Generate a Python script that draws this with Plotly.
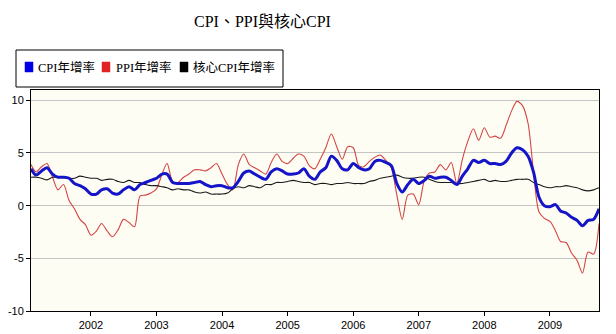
import pandas as pd
import plotly.graph_objects as go

# Monthly year-over-year rates (%), Feb 2001 - Oct 2009
months = pd.date_range("2001-02-01", "2009-10-01", freq="MS")

cpi = [
    3.5, 2.9, 3.3, 3.6, 3.0, 2.7, 2.7, 2.6, 2.1, 1.9, 1.6,
    1.1, 1.1, 1.5, 1.6, 1.2, 1.1, 1.5, 1.8, 1.5, 2.0, 2.2, 2.4,
    2.6, 3.0, 3.0, 2.2, 2.1, 2.1, 2.1, 2.2, 2.3, 2.0, 1.8, 1.9,
    1.9, 1.7, 1.7, 2.3, 3.1, 3.3, 3.0, 2.7, 2.5, 3.2, 3.5, 3.3,
    3.0, 3.0, 3.1, 3.5, 2.8, 2.5, 3.2, 3.6, 4.7, 4.3, 3.5, 3.4,
    4.0, 3.6, 3.4, 3.5, 4.2, 4.3, 4.1, 3.8, 2.1, 1.3, 2.0, 2.5,
    2.1, 2.4, 2.8, 2.6, 2.7, 2.7, 2.4, 2.0, 2.8, 3.5, 4.3, 4.1,
    4.3, 4.0, 4.0, 3.9, 4.2, 5.0, 5.5, 5.3, 4.7, 3.2, 0.8, 0.0,
    -0.1, 0.1, -0.5, -0.7, -1.1, -1.4, -1.9, -1.4, -1.3, -0.3,
]

ppi = [
    3.9, 3.2, 3.7, 4.0, 2.7, 1.5, 2.0, 0.5, -0.3, -1.3, -1.8,
    -2.8, -2.4, -1.7, -2.4, -2.95, -2.3, -1.3, -1.6, -2.0, 0.9, 1.0, 1.2,
    1.6, 3.0, 4.0, 2.3, 2.2, 2.7, 3.0, 3.4, 3.4, 3.3, 3.6, 4.0,
    3.0, 2.0, 1.5, 3.9, 4.9, 3.9, 3.6, 3.3, 3.0, 4.1, 4.9, 4.2,
    4.0, 4.5, 4.9, 4.7, 3.8, 3.5, 4.4, 5.5, 6.8, 5.6, 4.4, 5.6,
    5.5, 3.8, 3.7, 4.2, 4.6, 4.8, 4.3, 3.6, 1.0, -1.3, 1.0, 1.1,
    0.1, 2.4, 3.1, 3.2, 3.9, 3.4, 4.1, 2.1, 4.4, 6.1, 7.3, 6.2,
    7.4, 6.5, 6.6, 6.4, 7.6, 9.0, 9.9, 9.5, 7.8, 3.2, -0.6, -1.2,
    -1.5, -2.4, -3.4, -3.5, -4.5, -5.2, -6.4, -4.4, -4.6, -1.7,
]

core = [
    2.7, 2.7, 2.6, 2.45, 2.7, 2.7, 2.7, 2.6, 2.6, 2.8, 2.7,
    2.6, 2.6, 2.4, 2.5, 2.5, 2.3, 2.2, 2.4, 2.2, 2.2, 2.0, 1.9,
    1.9, 1.8, 1.7, 1.5, 1.6, 1.5, 1.5, 1.3, 1.2, 1.3, 1.1, 1.1,
    1.1, 1.2, 1.6, 1.8, 1.7, 1.9, 1.8, 1.7, 2.0, 2.0, 2.2, 2.2,
    2.3, 2.4, 2.3, 2.2, 2.2, 2.0, 2.1, 2.1, 2.0, 2.1, 2.1, 2.2,
    2.1, 2.1, 2.1, 2.3, 2.4, 2.6, 2.7, 2.8, 2.9, 2.7, 2.6, 2.6,
    2.7, 2.7, 2.5, 2.3, 2.2, 2.2, 2.2, 2.1, 2.1, 2.2, 2.3, 2.4,
    2.5, 2.3, 2.4, 2.3, 2.3, 2.4, 2.5, 2.5, 2.5, 2.2, 2.0, 1.8,
    1.7, 1.8, 1.8, 1.9, 1.8, 1.7, 1.5, 1.4, 1.5, 1.7,
]

series_names = ["CPI年增率", "PPI年增率", "核心CPI年增率"]
line_colors = ["#1414C8", "#D44444", "#1A1A1A"]
key_colors = ["#0000E6", "#E02424", "#000000"]
line_widths = [3, 1.1, 1.1]

year_ticks = [str(y) for y in range(2002, 2010)]
y_ticks = [-10, -5, 0, 5, 10]

W, H = 616, 334
ML, MR, MT, MB = 31, 17, 90, 23
PW, PH = W - ML - MR, H - MT - MB


def px(x):
    return (x - ML) / PW


def py(y):
    return (H - MB - y) / PH


fig = go.Figure()
# red first, then black, then blue on top
for idx in [1, 2, 0]:
    fig.add_trace(go.Scatter(
        x=months, y=[cpi, ppi, core][idx], mode="lines",
        name=series_names[idx], showlegend=False,
        line=dict(color=line_colors[idx], width=line_widths[idx],
                  shape="spline", smoothing=0.8),
        hoverinfo="x+y",
    ))

# legend box drawn in pixel positions
shapes = [dict(type="rect", xref="paper", yref="paper",
               x0=px(16), x1=px(283), y0=py(87), y1=py(50),
               line=dict(color="black", width=1), fillcolor="white", layer="above")]
annotations = []
key_x = [25, 102, 180]
text_x = [36, 114, 191]
for i, name in enumerate(series_names):
    shapes.append(dict(type="rect", xref="paper", yref="paper",
                       x0=px(key_x[i]), x1=px(key_x[i] + 8),
                       y0=py(72), y1=py(62),
                       line=dict(color=key_colors[i], width=0.5),
                       fillcolor=key_colors[i], layer="above"))
    annotations.append(dict(text=name, xref="paper", yref="paper",
                            x=px(text_x[i]), y=py(67.5),
                            xanchor="left", yanchor="middle", showarrow=False,
                            font=dict(family="Liberation Serif, Noto Sans CJK TC",
                                      size=12.5, color="black")))

annotations.append(dict(text="CPI、PPI與核心CPI", xref="paper", yref="paper",
                        x=px(262), y=py(21), xanchor="center", yanchor="middle",
                        showarrow=False,
                        font=dict(family="Liberation Serif, Noto Sans CJK TC",
                                  size=16, color="black")))

fig.update_layout(
    width=W, height=H,
    margin=dict(l=ML, r=MR, t=MT, b=MB, pad=0),
    paper_bgcolor="white",
    plot_bgcolor="#FEFDF3",
    shapes=shapes,
    annotations=annotations,
    showlegend=False,
    xaxis=dict(
        type="date",
        automargin=False,
        range=[months[0], months[-1]],
        tickvals=[f"{y}-01-01" for y in year_ticks],
        ticktext=year_ticks,
        ticks="outside", ticklen=4, tickcolor="black",
        showline=True, linecolor="black", linewidth=1, mirror=True,
        showgrid=False, zeroline=False,
        tickfont=dict(family="Liberation Sans, Arial", size=11, color="black"),
    ),
    yaxis=dict(
        automargin=False,
        range=[-10, 10.98],
        tickvals=y_ticks,
        ticktext=[str(v) for v in y_ticks],
        ticks="outside", ticklen=4, tickcolor="black",
        showline=True, linecolor="black", linewidth=1, mirror=True,
        showgrid=True, gridcolor="#C4C4C4", gridwidth=1, zeroline=False,
        tickfont=dict(family="Liberation Sans, Arial", size=11, color="black"),
    ),
)

fig.write_html("out.html")
